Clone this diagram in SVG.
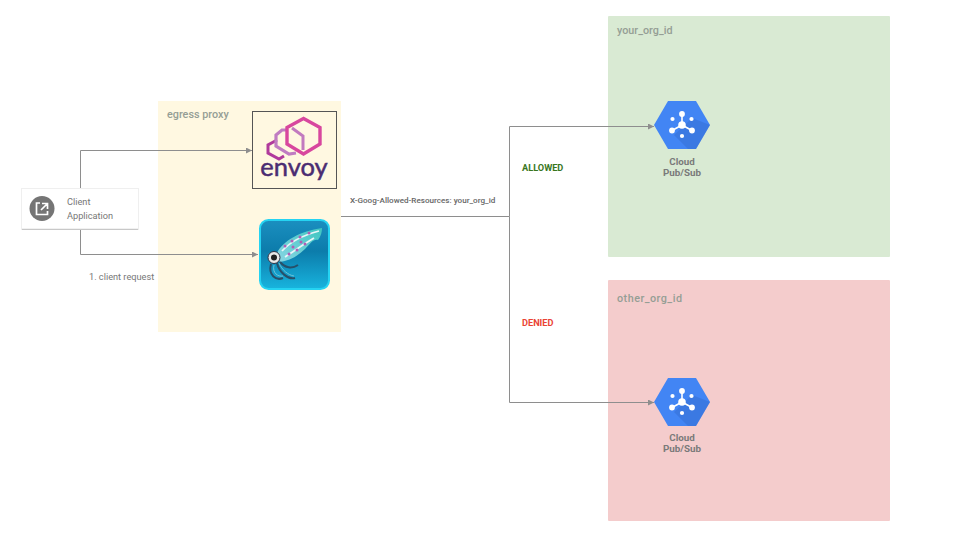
<svg xmlns="http://www.w3.org/2000/svg" width="960" height="540" viewBox="0 0 960 540">
<style>
text{font-family:Roboto,"Liberation Sans",sans-serif}
.zone{font-size:10.8px;font-weight:500;fill:#959e95}
.lbl{font-size:9.200px;fill:#777}
.b{font-weight:700}
.ps{font-size:9.800px;font-weight:700;fill:#7a7a7a;text-anchor:middle}
.c{fill:none;stroke:#8e8e8e;stroke-width:1}
</style>
<defs>
<marker id="a" markerWidth="7" markerHeight="6" refX="6" refY="3" orient="auto" markerUnits="userSpaceOnUse"><path d="M0 0L6 3L0 6z" fill="#8e8e8e"/></marker>
<linearGradient id="sq" x1="0" y1="0" x2="0" y2="1"><stop offset="0" stop-color="#1b8fc0"/><stop offset=".45" stop-color="#0c7cab"/><stop offset="1" stop-color="#18b4de"/></linearGradient>
<linearGradient id="body" x1="0" y1="1" x2="1" y2="0"><stop offset="0" stop-color="#8ad6e4"/><stop offset="1" stop-color="#3fc6c0"/></linearGradient>
<g id="ps">
<path d="M-14 -24H14L28 0L14 24H-14L-28 0z" fill="#4285f4"/>
<path d="M10 -7L28 0L14 24H6L-8 10z" fill="#3367c9" opacity=".4"/>
<g stroke="#fff" stroke-width="1.600"><path d="M0 0V-10M0 0L-9 5M0 0L9 5"/></g>
<g fill="#fff"><circle r="3.800"/><circle cy="-11" r="2.900"/><circle cx="-10" cy="5.500" r="2.900"/><circle cx="10" cy="5.500" r="2.900"/><circle cx="-9.500" cy="-6" r="2.100"/><circle cx="9.500" cy="-6" r="2.100"/><circle cy="11" r="2.100"/></g>
</g>
</defs>
<rect width="960" height="540" fill="#fff"/>
<g id="zone-egress"><rect x="158" y="101" width="183" height="231" fill="#fff8e1"/><text class="zone" x="167" y="118">egress proxy</text></g>
<g id="zone-your-org"><rect x="608" y="16" width="282" height="241" rx="1" fill="#d9ead3"/><text class="zone" x="617" y="34">your_org_id</text></g>
<g id="zone-other-org"><rect x="608" y="280" width="282" height="241" rx="1" fill="#f4cccc"/><text class="zone" x="617" y="302" textLength="65">other_org_id</text></g>
<g id="connectors">
<path class="c" d="M80.500 189V150.500H252" marker-end="url(#a)"/>
<path class="c" d="M80.500 229V254.500H258" marker-end="url(#a)"/>
<path class="c" d="M341 216.500H509.500V126.500H654" marker-end="url(#a)"/>
<path class="c" d="M509.500 216.500V402.500H654" marker-end="url(#a)"/>
</g>
<g id="client">
<rect x="21.500" y="188.500" width="117" height="41" fill="none" stroke="#efefef" stroke-width="1"/>
<rect x="22" y="228.500" width="116" height="1.500" fill="#c8c8c8"/>
<rect x="22" y="189" width="116" height="39.500" fill="#fff"/>
<circle cx="42" cy="208.500" r="12.500" fill="#757575"/>
<path d="M40 203H36.500V214.500H47.500V211M42 203.500H47.500V209M47 204L41 210" fill="none" stroke="#fff" stroke-width="1.700"/>
<text class="lbl" x="67" y="205">Client</text><text class="lbl" x="67" y="218.500">Application</text>
</g>
<g id="envoy">
<rect x="252.500" y="111.500" width="84" height="77" fill="#fff8e1" stroke="#555" stroke-width="1"/>
<g fill="none" stroke-linejoin="miter">
<path d="M277 140L268 145V153L279 159L284 156" stroke="#b03a9c" stroke-width="3"/>
<path d="M288 130L282 130L276 135V146L289 154L296 153" stroke="#c07cc2" stroke-width="3.200"/>
<path d="M303.500 118.500L287 127.500V144L303.500 154L320 144V127.500z" stroke="#d8479e" stroke-width="3.400"/>
<path d="M292 128L303 136V150" stroke="#c27abf" stroke-width="3"/>
</g>
<text x="294" y="176" font-size="25.500" fill="#4b2c72" stroke="#4b2c72" stroke-width=".5" text-anchor="middle" style="font-family:Lato,'Liberation Sans',sans-serif">envoy</text>
</g>
<g id="squid">
<rect x="260" y="220" width="69" height="69" rx="8.500" fill="url(#sq)" stroke="#25d3f2" stroke-width="2"/>
<path d="M277 253C283 241 300 231 322 228C322 232 321 236 318 240C313 239 311 243 305 249C297 257 288 261 280 262z" fill="url(#body)"/>
<path d="M282 251C290 242 304 235 319 231M285 257C294 251 304 244 314 238" fill="none" stroke="#e8f6f8" stroke-width="1.800"/>
<g fill="#b05fb5"><circle cx="285" cy="246" r="1.500"/><circle cx="292" cy="241" r="1.500"/><circle cx="300" cy="237" r="1.500"/><circle cx="309" cy="233" r="1.500"/><circle cx="289" cy="254" r="1.500"/><circle cx="297" cy="250" r="1.500"/><circle cx="305" cy="244" r="1.500"/><circle cx="293" cy="247" r="1.500"/><circle cx="301" cy="242" r="1.500"/></g>
<g fill="none" stroke="#27506a" stroke-width="2"><path d="M271 264C268 275 276 281 283 278"/><path d="M277 263C279 272 288 280 295 278"/><path d="M280 262C285 268 292 269 298 265"/></g>
<g fill="none" stroke="#6fc3d8" stroke-width="1"><path d="M274 265C272 273 278 277 283 276"/><path d="M279 263C282 270 288 275 294 276"/></g>
<circle cx="274" cy="257.500" r="6" fill="#e9e9e9" stroke="#334" stroke-width="1"/><circle cx="274" cy="257.500" r="3" fill="#222"/>
</g>
<g id="pubsub-allowed"><use href="#ps" x="682" y="125"/><text class="ps" x="682" y="165">Cloud</text><text class="ps" x="682" y="176">Pub/Sub</text></g>
<g id="pubsub-denied"><use href="#ps" x="682" y="402"/><text class="ps" x="682" y="441">Cloud</text><text class="ps" x="682" y="452">Pub/Sub</text></g>
<g id="labels">
<text class="lbl" x="89" y="280">1. client request</text>
<text x="350" y="203" font-size="8.100" font-weight="500" fill="#666">X-Goog-Allowed-Resources: your_org_id</text>
<text class="b" x="522" y="171" font-size="9.200" fill="#38761d">ALLOWED</text>
<text class="b" x="522" y="326" font-size="9.200" fill="#ea4335">DENIED</text>
</g>
</svg>
